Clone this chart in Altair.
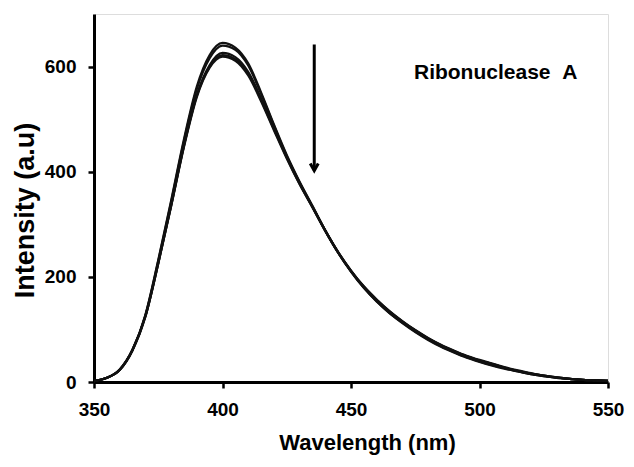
import altair as alt
import pandas as pd

wavelength = list(range(350, 551, 5))

curve_a = [2, 8, 24, 62, 128, 232, 345, 462, 562, 622, 645, 636, 606, 551, 490, 432, 381, 335, 288, 246, 210,
           179, 153, 131, 112, 95, 80, 67, 56, 46, 38, 31, 25, 20, 15, 11, 8, 6, 4, 3, 2]
curve_b = [2, 8, 24, 62, 127, 230, 342, 458, 557, 616, 640, 632, 602, 548, 488, 430, 380, 334, 288, 246, 210,
           179, 153, 131, 113, 96, 81, 68, 57, 47, 39, 32, 26, 20, 15, 11, 8, 6, 4, 3, 2]
curve_c = [2, 8, 23, 61, 125, 226, 336, 450, 546, 603, 626, 618, 590, 540, 483, 428, 378, 333, 288, 247, 212,
           181, 156, 134, 115, 98, 83, 70, 59, 49, 41, 34, 27, 21, 16, 12, 9, 6, 4, 3, 2]
curve_d = [2, 8, 23, 61, 125, 226, 335, 449, 544, 600, 622, 614, 586, 537, 481, 427, 377, 333, 288, 247, 212,
           182, 157, 135, 116, 99, 84, 71, 60, 50, 42, 35, 28, 22, 17, 12, 9, 6, 4, 3, 2]
curve_e = [2, 8, 23, 60, 124, 225, 334, 447, 542, 598, 619, 611, 583, 534, 479, 425, 376, 332, 287, 246, 211,
           181, 156, 134, 115, 98, 83, 70, 59, 49, 41, 34, 27, 21, 16, 12, 9, 6, 4, 3, 2]

curve_names = ["A", "B", "C", "D", "E"]
curves = [curve_a, curve_b, curve_c, curve_d, curve_e]

x_ticks = [350, 400, 450, 500, 550]
y_ticks = [0, 200, 400, 600]

arrow_x = [435.7]
arrow_top = [642]
arrow_tip = [402]

label_text = ["Ribonuclease\u00a0\u00a0A"]
label_x = [474.5]
label_y = [587]

rows = []
for name, vals in zip(curve_names, curves):
    for w, v in zip(wavelength, vals):
        rows.append({"wavelength": w, "intensity": v, "curve": name})
df = pd.DataFrame(rows)

arrow_df = pd.DataFrame({"x": arrow_x, "y": arrow_top, "y2": arrow_tip})
label_df = pd.DataFrame({"x": label_x, "y": label_y, "text": label_text})

FONT = "Liberation Sans"

xscale = alt.Scale(domain=[350, 550], nice=False, zero=False)
yscale = alt.Scale(domain=[0, 700], nice=False)

lines = alt.Chart(df).mark_line(color="#111111", strokeWidth=2.2, interpolate="monotone").encode(
    x=alt.X("wavelength:Q", scale=xscale,
            axis=alt.Axis(title="Wavelength (nm)", values=x_ticks, grid=False,
                          domainColor="black", domainWidth=3, tickColor="black", tickWidth=2.5, tickSize=6,
                          labelFont=FONT, labelFontSize=19, labelFontWeight="bold", labelColor="black",
                          labelPadding=12, labelFlush=False,
                          titleFont=FONT, titleFontSize=22, titleFontWeight="bold", titleColor="black",
                          titleX=273, titleY=67, titleBaseline="alphabetic", titleAnchor="start", titleAlign="center")),
    y=alt.Y("intensity:Q", scale=yscale,
            axis=alt.Axis(title="Intensity (a.u)", values=y_ticks, grid=False,
                          domainColor="black", domainWidth=3, tickColor="black", tickWidth=2.5, tickSize=6,
                          labelFont=FONT, labelFontSize=19, labelFontWeight="bold", labelColor="black",
                          labelPadding=12,
                          titleFont=FONT, titleFontSize=27, titleFontWeight="bold", titleColor="black",
                          titleX=-61, titleY=196, titleAngle=270, titleBaseline="alphabetic",
                          titleAlign="center", titleAnchor="start")),
    detail="curve:N",
)

shaft = alt.Chart(arrow_df).mark_rule(color="black", strokeWidth=3).encode(
    x=alt.X("x:Q", scale=xscale),
    y=alt.Y("y:Q", scale=yscale),
    y2="y2:Q",
)

head = alt.Chart(arrow_df).mark_point(
    shape="M -1 -1.8 L 0 0 L 1 -1.8", filled=False, stroke="black", strokeWidth=3, size=64, opacity=1
).encode(
    x=alt.X("x:Q", scale=xscale),
    y=alt.Y("y2:Q", scale=yscale),
)

label = alt.Chart(label_df).mark_text(
    font=FONT, fontSize=21, fontWeight="bold", color="black", align="left", baseline="middle"
).encode(
    x=alt.X("x:Q", scale=xscale),
    y=alt.Y("y:Q", scale=yscale),
    text="text:N",
)

chart = alt.layer(lines, shaft, head, label).properties(
    width=514, height=368,
    autosize=alt.AutoSizeParams(type="none"),
    padding={"left": 86, "top": 6, "right": 18, "bottom": 75},
).configure_view(stroke=None).configure(background="white")

chart.save("out.html", embed_options={"renderer": "svg", "actions": False})
